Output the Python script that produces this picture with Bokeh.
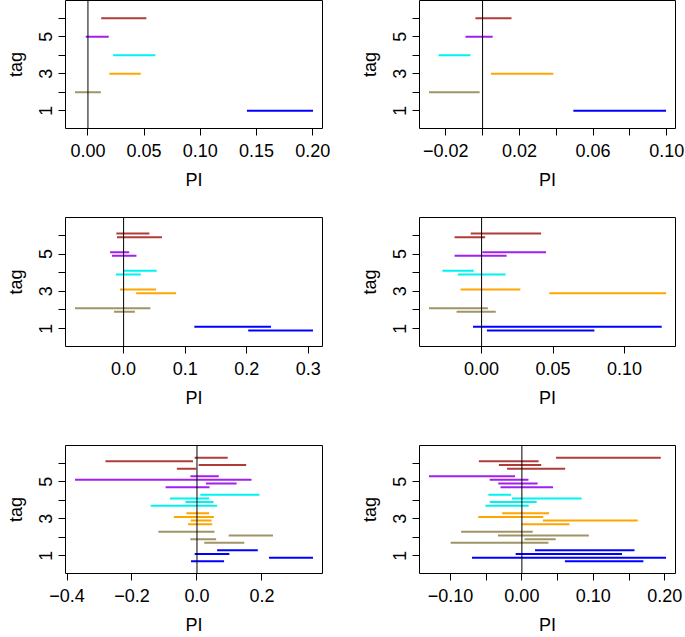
from bokeh.plotting import figure
from bokeh.models import Span, FixedTicker, Range1d
from bokeh.layouts import column, row
from bokeh.embed import file_html
from bokeh.resources import INLINE

# ---------------- data ----------------
tags = [1, 2, 3, 4, 5, 6]
tag_colors = ["#0000FF", "#A09466", "#FFA500", "#00F2F2", "#A020F0", "#B03C3A"]
y_ticks = [1, 2, 3, 4, 5, 6]
y_tick_labels = ["1", "", "3", "", "5", ""]

# intervals [lo, hi] per tag (tags 1..6), replicates listed top to bottom
p1_intervals = [
    [[0.1415, 0.2003]],
    [[-0.0115, 0.0115]],
    [[0.019, 0.047]],
    [[0.0224, 0.060]],
    [[-0.002, 0.0185]],
    [[0.0118, 0.052]],
]
p2_intervals = [
    [[0.0493, 0.0996]],
    [[-0.0291, -0.0016]],
    [[0.0046, 0.0384]],
    [[-0.0239, -0.0066]],
    [[-0.0093, 0.0055]],
    [[-0.0039, 0.0157]],
]
p3_intervals = [
    [[0.1149, 0.2394], [0.2024, 0.3076]],
    [[-0.0789, 0.0435], [-0.0156, 0.0183]],
    [[-0.0059, 0.0526], [0.0204, 0.0853]],
    [[0.0, 0.0537], [-0.0123, 0.0279]],
    [[-0.022, 0.0091], [-0.0188, 0.0209]],
    [[-0.0118, 0.0419], [-0.0107, 0.0623]],
]
p4_intervals = [
    [[-0.006, 0.126], [0.0037, 0.0789]],
    [[-0.0368, 0.0044], [-0.0175, 0.0099]],
    [[-0.0147, 0.0271], [0.0474, 0.129]],
    [[-0.0274, -0.0055], [-0.0166, 0.0168]],
    [[0.0005, 0.0451], [-0.0189, 0.0175]],
    [[-0.0076, 0.0416], [-0.0189, 0.0025]],
]
p5_intervals = [
    [[0.062, 0.1872], [-0.0071, 0.0997], [0.2218, 0.3571], [-0.0183, 0.0834]],
    [[-0.119, 0.0539], [0.0977, 0.234], [-0.0203, 0.059], [0.0224, 0.1455]],
    [[-0.0326, 0.0376], [-0.0712, 0.0519], [-0.0193, 0.0448], [-0.0275, 0.0468]],
    [[0.0102, 0.1923], [-0.0834, 0.0376], [-0.0356, 0.0509], [-0.1424, 0.0621]],
    [[-0.0203, 0.0671], [-0.3754, 0.1679], [0.0275, 0.122], [-0.0966, 0.0387]],
    [[-0.0071, 0.0946], [-0.2818, -0.0122], [0.0051, 0.1516], [-0.062, -0.002]],
]
p6_intervals = [
    [[0.0184, 0.1576], [-0.0087, 0.1401], [-0.0698, 0.2017], [0.0602, 0.17]],
    [[-0.085, 0.0152], [-0.0335, 0.0937], [0.0037, 0.0473], [-0.0997, 0.0372]],
    [[-0.0276, 0.0381], [-0.0611, 0.0299], [0.0294, 0.1621], [0.0, 0.0666]],
    [[-0.0469, -0.0152], [-0.0138, 0.0836], [-0.045, 0.0207], [-0.051, 0.0096]],
    [[-0.13, -0.0096], [-0.045, 0.0092], [-0.0331, 0.022], [-0.0299, 0.0436]],
    [[0.0478, 0.1943], [-0.0602, 0.0234], [-0.0322, 0.0271], [-0.0207, 0.0606]],
]

p1_xticks = [0.0, 0.05, 0.10, 0.15, 0.20]
p1_xlabels = ["0.00", "0.05", "0.10", "0.15", "0.20"]
p2_xticks = [-0.02, 0.0, 0.02, 0.04, 0.06, 0.08, 0.10]
p2_xlabels = ["\u22120.02", "", "0.02", "", "0.06", "", "0.10"]
p3_xticks = [0.0, 0.1, 0.2, 0.3]
p3_xlabels = ["0.0", "0.1", "0.2", "0.3"]
p4_xticks = [0.0, 0.05, 0.10]
p4_xlabels = ["0.00", "0.05", "0.10"]
p5_xticks = [-0.4, -0.2, 0.0, 0.2]
p5_xlabels = ["\u22120.4", "\u22120.2", "0.0", "0.2"]
p6_xticks = [-0.10, -0.05, 0.0, 0.05, 0.10, 0.15, 0.20]
p6_xlabels = ["\u22120.10", "", "0.00", "", "0.10", "", "0.20"]

x_title = "PI"
y_title = "tag"

# ---------------- drawing ----------------
FONT = "Liberation Sans"
FSIZE = "18px"


def make_panel(intervals, xticks, xlabels, width, height, mb):
    x0, x1, y, col = [], [], [], []
    for t, reps, c in zip(tags, intervals, tag_colors):
        n = len(reps)
        for k, (lo, hi) in enumerate(reps):
            off = 0.2 * ((n - 1) / 2.0 - k)
            x0.append(lo)
            x1.append(hi)
            y.append(t + off)
            col.append(c)
    lo_all = min(x0)
    hi_all = max(x1)
    ext = 0.04 * (hi_all - lo_all)
    p = figure(width=width, height=height, output_backend="svg", toolbar_location=None,
               x_range=Range1d(lo_all - ext, hi_all + ext), y_range=Range1d(0.044, 6.956),
               min_border_left=mb[0], min_border_right=mb[1],
               min_border_top=mb[2], min_border_bottom=mb[3])
    p.grid.visible = False
    p.outline_line_color = "black"
    p.outline_line_width = 1
    p.background_fill_color = "white"
    p.border_fill_color = "white"

    p.segment(x0=x0, y0=y, x1=x1, y1=y, line_color=col, line_width=2)
    p.add_layout(Span(location=0, dimension="height", line_color="black", line_width=1))

    xa = p.xaxis[0]
    xa.ticker = FixedTicker(ticks=xticks, minor_ticks=[])
    xa.major_label_overrides = {float(v): s for v, s in zip(xticks, xlabels)}
    ya = p.yaxis[0]
    ya.ticker = FixedTicker(ticks=y_ticks, minor_ticks=[])
    ya.major_label_overrides = {float(v): s for v, s in zip(y_ticks, y_tick_labels)}
    ya.major_label_orientation = "vertical"
    xa.axis_label = x_title
    ya.axis_label = y_title
    for a in (xa, ya):
        a.axis_line_color = None
        a.major_tick_out = 7
        a.major_tick_in = 0
        a.major_tick_line_color = "black"
        a.minor_tick_line_color = None
        a.major_label_text_font = FONT
        a.major_label_text_font_size = FSIZE
        a.major_label_text_color = "black"
        a.axis_label_text_font = FONT
        a.axis_label_text_font_size = FSIZE
        a.axis_label_text_font_style = "normal"
        a.axis_label_text_color = "black"
    xa.major_label_standoff = 8
    xa.axis_label_standoff = 10
    ya.major_label_standoff = 6
    ya.axis_label_standoff = 11
    return p


LW, RW = 340, 345
H1, H2, H3 = 207, 228, 202
lb = (65, 18)
rb = (79, 10)

f1 = make_panel(p1_intervals, p1_xticks, p1_xlabels, LW, H1, lb + (0, 79))
f2 = make_panel(p2_intervals, p2_xticks, p2_xlabels, RW, H1, rb + (0, 79))
f3 = make_panel(p3_intervals, p3_xticks, p3_xlabels, LW, H2, lb + (10, 89))
f4 = make_panel(p4_intervals, p4_xticks, p4_xlabels, RW, H2, rb + (10, 89))
f5 = make_panel(p5_intervals, p5_xticks, p5_xlabels, LW, H3, lb + (10, 64))
f6 = make_panel(p6_intervals, p6_xticks, p6_xlabels, RW, H3, rb + (10, 64))

layout = column(row(f1, f2, spacing=0), row(f3, f4, spacing=0), row(f5, f6, spacing=0), spacing=0)
open("out.html", "w").write(file_html(layout, INLINE))
